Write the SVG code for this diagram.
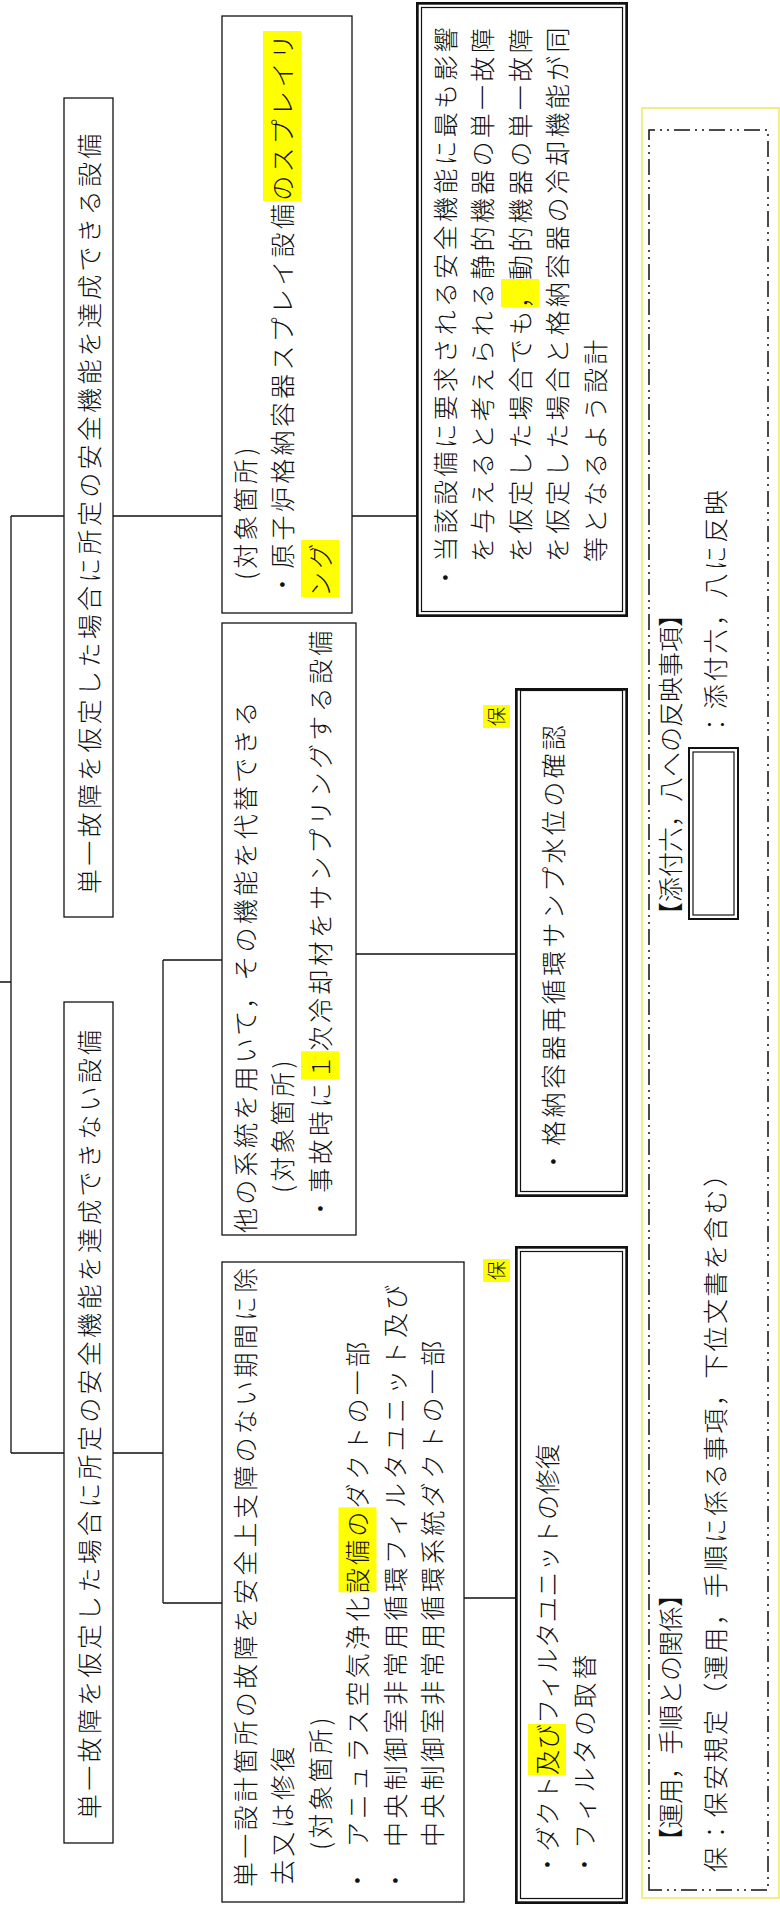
<svg xmlns="http://www.w3.org/2000/svg" width="780" height="1910" viewBox="0 0 780 1910">
<style>
text{font-family:"Noto Sans CJK JP","Noto Sans CJK SC",sans-serif;font-size:25px;font-weight:300;fill:#111;letter-spacing:3.3px}
.box{fill:#fff;stroke:#111;stroke-width:1.3}
.dbo{fill:#fff;stroke:#111;stroke-width:2.7}
.dbi{fill:none;stroke:#111;stroke-width:1.2}
.con{fill:none;stroke:#111;stroke-width:1.3}
.hl{fill:#ffff00}
.lab{font-size:19px;letter-spacing:0}
.fit{letter-spacing:0}
.ybox{fill:#fff;stroke:#f0e860;stroke-width:1.5}
.dash{fill:none;stroke:#111;stroke-width:1.5;stroke-dasharray:16 5 2 5 2 5}
</style>
<rect width="780" height="1910" fill="#fff"/>
<g id="page" transform="translate(0,1910) rotate(-90)">
 <g id="connectors">
  <path class="con" d="M928,0 V11 M457,11 H1394 M457,11 V64 M1394,11 V64 M1394,113 V222 M1394,352 V416 M457,113 V163 M307,163 H950 M950,163 V222 M307,163 V222 M956,356 V515 M312,464 V515"/>
 </g>
 <g id="nodeA">
  <rect class="box" x="993" y="64" width="819" height="49"/>
  <text x="1016" y="98.5">単一故障を仮定した場合に所定の安全機能を達成できる設備</text>
 </g>
 <g id="nodeB">
  <rect class="box" x="67" y="64" width="841" height="49"/>
  <text x="91" y="98.5">単一故障を仮定した場合に所定の安全機能を達成できない設備</text>
 </g>
 <g id="nodeC">
  <rect class="box" x="1297" y="222" width="597" height="130"/>
  <rect class="hl" x="1709" y="263" width="170" height="38"/>
  <rect class="hl" x="1313" y="301" width="57" height="38"/>
  <text x="1330" y="254.5">(対象箇所)</text>
  <text x="1313" y="292">・原子炉格納容器スプレイ設備のスプレイリ</text>
  <text x="1313" y="329.5">ング</text>
 </g>
 <g id="nodeD">
  <rect class="dbo" x="1294.35" y="417.35" width="612.3" height="209.3"/>
  <rect class="dbi" x="1298.5" y="421.5" width="604" height="201"/>
  <rect class="hl" x="1603" y="501" width="28" height="38"/>
  <text x="1320" y="454.5">・当該設備に要求される安全機能に最も影響</text>
  <text x="1348" y="492">を与えると考えられる静的機器の単一故障</text>
  <text x="1348" y="529.5">を仮定した場合でも，動的機器の単一故障</text>
  <text x="1348" y="567">を仮定した場合と格納容器の冷却機能が同</text>
  <text x="1348" y="604.5">等となるよう設計</text>
 </g>
 <g id="nodeE">
  <rect class="box" x="675" y="222" width="612" height="134"/>
  <rect class="hl" x="830.5" y="301" width="28.3" height="38"/>
  <text x="677" y="254.5">他の系統を用いて，その機能を代替できる</text>
  <text x="717" y="292">(対象箇所)</text>
  <text x="689" y="329.5">・事故時に１次冷却材をサンプリングする設備</text>
 </g>
 <g id="nodeF">
  <rect class="box" x="8" y="222" width="640" height="242"/>
  <rect class="hl" x="317.7" y="338.5" width="85" height="38"/>
  <text x="23" y="254.5">単一設計箇所の故障を安全上支障のない期間に除</text>
  <text x="25" y="292">去又は修復</text>
  <text x="60" y="329.5">(対象箇所)</text>
  <text x="17" y="367">・</text>
  <text x="63" y="367">アニュラス空気浄化設備のダクトの一部</text>
  <text x="17" y="404.5">・</text>
  <text x="63" y="404.5">中央制御室非常用循環フィルタユニット及び</text>
  <text x="63" y="442">中央制御室非常用循環系統ダクトの一部</text>
 </g>
 <g id="nodeG">
  <rect class="hl" x="1182" y="483" width="23" height="27"/>
  <text class="lab" x="1184" y="503.5">保</text>
  <rect class="dbo" x="714.35" y="516.35" width="506.3" height="110.3"/>
  <rect class="dbi" x="718.5" y="520.5" width="501" height="102"/>
  <text x="736" y="562.5">・格納容器再循環サンプ水位の確認</text>
 </g>
 <g id="nodeH">
  <rect class="hl" x="628" y="483" width="23" height="27"/>
  <text class="lab" x="630" y="503.5">保</text>
  <rect class="dbo" x="7.35" y="516.35" width="655.3" height="110.3"/>
  <rect class="dbi" x="11.5" y="520.5" width="647" height="102"/>
  <rect class="hl" x="135" y="528" width="51" height="38"/>
  <text class="fit" x="33" y="556.5" textLength="433" lengthAdjust="spacing">・ダクト及びフィルタユニットの修復</text>
  <text x="33" y="593.5">・フィルタの取替</text>
 </g>
 <g id="nodeI">
  <rect class="ybox" x="12" y="642" width="1790" height="137"/>
  <rect class="dash" x="20" y="649" width="1760" height="119"/>
  <text class="fit" x="57" y="679.5" textLength="271" lengthAdjust="spacing">【運用，手順との関係】</text>
  <text class="fit" x="983" y="679.5" textLength="325" lengthAdjust="spacing">【添付六，八への反映事項】</text>
  <text class="fit" x="38" y="724.5" textLength="710" lengthAdjust="spacing">保：保安規定（運用，手順に係る事項，下位文書を含む）</text>
  <rect class="dbo" x="991" y="689" width="171" height="49" style="stroke-width:2"/>
  <rect class="dbi" x="995" y="693" width="163" height="41"/>
  <text class="fit" x="1173" y="724.5" textLength="247" lengthAdjust="spacing">：添付六，八に反映</text>
 </g>
</g>
</svg>
